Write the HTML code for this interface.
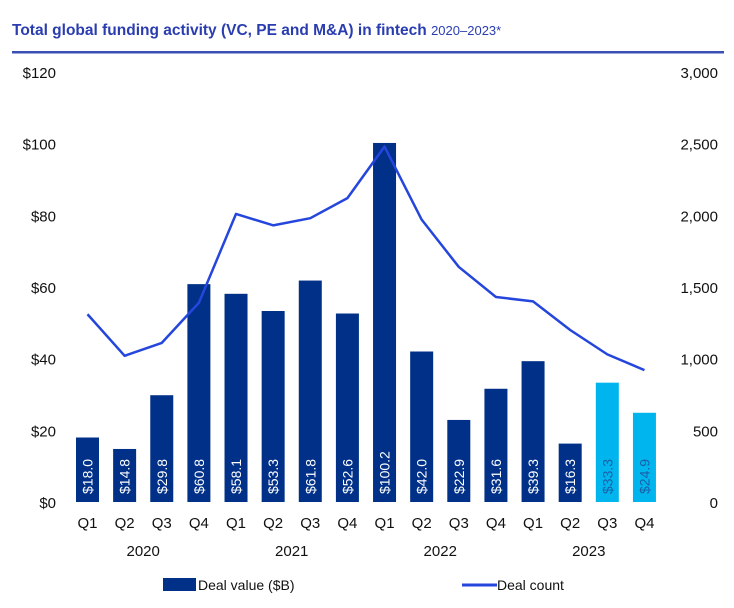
<!DOCTYPE html>
<html><head><meta charset="utf-8"><style>
body{margin:0;background:#fff;font-family:"Liberation Sans",Arial,sans-serif;}
svg{display:block}
</style></head><body>
<svg width="734" height="608" viewBox="0 0 734 608" id="chart">
<text x="12" y="35" font-size="15.5" font-weight="bold" fill="#2a3db0">Total global funding activity (VC, PE and M&amp;A) in fintech <tspan font-weight="normal" font-size="13">2020–2023*</tspan></text>
<rect x="12" y="51" width="712" height="2.5" fill="#3a4fb5"/>
<g id="yl"></g><g id="yr"></g><g id="bars"></g><g id="xl"></g>
<g id="legend">
<rect x="163" y="578" width="33" height="13" fill="#003087"/>
<text x="198" y="590" font-size="14" fill="#111">Deal value ($B)</text>
<rect x="462" y="583.5" width="35" height="3" fill="#2546dc"/>
<text x="497" y="590" font-size="14" fill="#111">Deal count</text>
</g>
</svg>
<script>
const quarters=["Q1","Q2","Q3","Q4","Q1","Q2","Q3","Q4","Q1","Q2","Q3","Q4","Q1","Q2","Q3","Q4"];
const years=["2020","2021","2022","2023"];
const dealValues=[18.0,14.8,29.8,60.8,58.1,53.3,61.8,52.6,100.2,42.0,22.9,31.6,39.3,16.3,33.3,24.9];
const dealCounts=[1310,1020,1110,1390,2010,1930,1980,2120,2480,1970,1640,1430,1400,1200,1030,920];
const estimated=[false,false,false,false,false,false,false,false,false,false,false,false,false,false,true,true];
const leftTicks=[0,20,40,60,80,100,120];
const rightTicks=[0,500,1000,1500,2000,2500,3000];
const NS="http://www.w3.org/2000/svg";
const y0=502,y1=72;
const yL=v=>y0-(v/120)*(y0-y1);
const yR=v=>y0-(v/3000)*(y0-y1);
const xC=i=>87.5+i*37.13;
function mk(t,a,p){const e=document.createElementNS(NS,t);for(const k in a)e.setAttribute(k,a[k]);p.appendChild(e);return e;}
const gL=document.getElementById('yl'),gR=document.getElementById('yr'),gB=document.getElementById('bars'),gX=document.getElementById('xl');
leftTicks.forEach(v=>{const t=mk('text',{x:56,y:yL(v)+6,'font-size':15,'text-anchor':'end',fill:'#111'},gL);t.textContent='$'+v;

});
rightTicks.forEach(v=>{const t=mk('text',{x:718,y:yR(v)+6,'font-size':15,'text-anchor':'end',fill:'#111'},gR);t.textContent=v.toLocaleString('en-US');

});
dealValues.forEach((v,i)=>{const x=xC(i),w=23;
const r=mk('rect',{x:x-w/2,y:yL(v),width:w,height:y0-yL(v),fill:estimated[i]?'#00b4ee':'#003087'},gB);


const t=mk('text',{x:0,y:0,'font-size':14,fill:estimated[i]?'#1a5fa8':'#fff','text-anchor':'start',transform:`translate(${x+5},${y0-8}) rotate(-90)`},gB);
t.textContent='$'+v.toFixed(1);


const q=mk('text',{x:x,y:528,'font-size':15,'text-anchor':'middle',fill:'#111'},gX);q.textContent=quarters[i];

});
years.forEach((yr,k)=>{const t=mk('text',{x:(xC(k*4+1)+xC(k*4+2))/2,y:556,'font-size':15,'text-anchor':'middle',fill:'#111'},gX);t.textContent=yr;

});
const pl=mk('polyline',{points:dealCounts.map((c,i)=>xC(i)+','+yR(c)).join(' '),fill:'none',stroke:'#2546dc','stroke-width':2.5,'stroke-linejoin':'round'},gB);


</script>
</body></html>
